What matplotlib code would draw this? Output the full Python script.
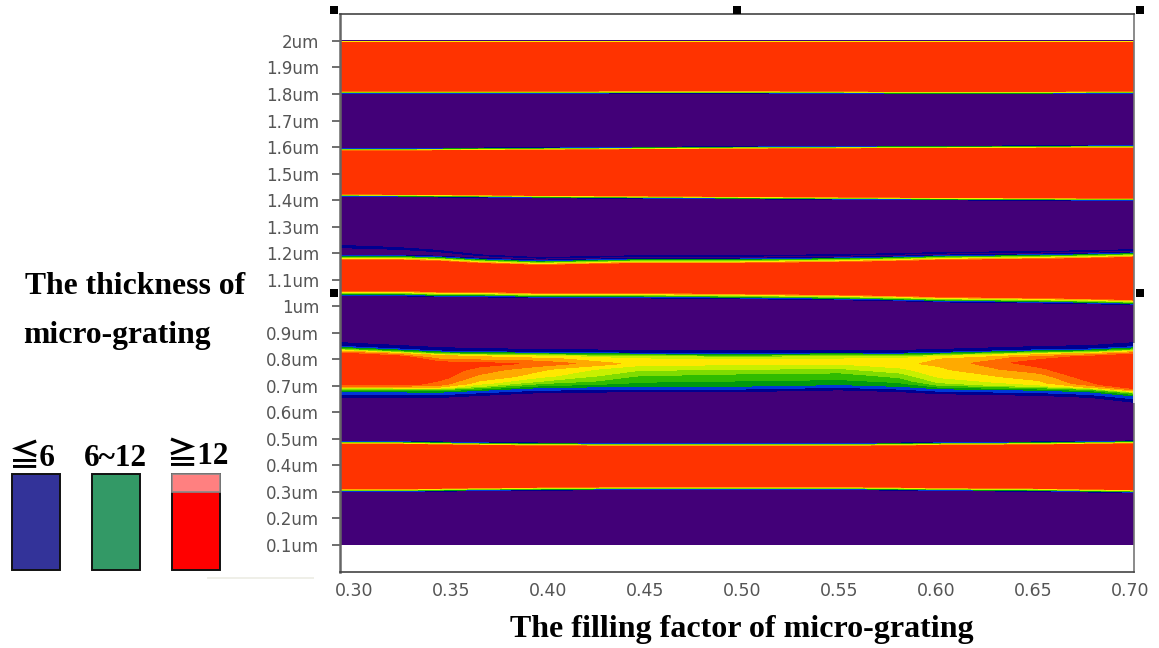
import numpy as np
import matplotlib
matplotlib.use("Agg")
import matplotlib.pyplot as plt
from matplotlib.patches import Rectangle

W, H = 1159, 648

# ---------- data ----------
filling = [0.2928, 0.3232, 0.3439, 0.3645, 0.3955, 0.4471, 0.4987,
           0.5503, 0.5813, 0.6019, 0.6535, 0.6794, 0.7021]
x_ticks = [0.30, 0.35, 0.40, 0.45, 0.50, 0.55, 0.60, 0.65, 0.70]
x_labels = ["0.30", "0.35", "0.40", "0.45", "0.50", "0.55", "0.60", "0.65", "0.70"]
y_ticks = [0.1, 0.2, 0.3, 0.4, 0.5, 0.6, 0.7, 0.8, 0.9, 1.0,
           1.1, 1.2, 1.3, 1.4, 1.5, 1.6, 1.7, 1.8, 1.9, 2.0]
y_labels = ["0.1um", "0.2um", "0.3um", "0.4um", "0.5um", "0.6um", "0.7um", "0.8um", "0.9um", "1um",
            "1.1um", "1.2um", "1.3um", "1.4um", "1.5um", "1.6um", "1.7um", "1.8um", "1.9um", "2um"]

# band edges (thickness, um) along the filling factor
edge_a = [0.307, 0.307, 0.309, 0.311, 0.313, 0.315, 0.315, 0.315, 0.313, 0.311, 0.309, 0.306, 0.304]
edge_b = [0.484, 0.484, 0.482, 0.480, 0.478, 0.477, 0.477, 0.477, 0.478, 0.480, 0.482, 0.484, 0.486]
mid_bottom = [.650, .650, .650, .658, .669, .673, .673, .680, .673, .665, .658, .650, .631]
mid_top = [.865, .854, .846, .842, .839, .835, .835, .835, .835, .839, .850, .854, .865]
edge_c = [1.050, 1.050, 1.046, 1.046, 1.042, 1.042, 1.039, 1.035, 1.031, 1.027, 1.023, 1.020, 1.016]
edge_d = [1.182, 1.182, 1.178, 1.170, 1.163, 1.170, 1.170, 1.174, 1.178, 1.182, 1.186, 1.189, 1.193]
edge_d_smear = [.040, .030, .022, .012, .008, .008, .008, .008, .008, .008, .008, .008, .008]
edge_e = [1.419, 1.418, 1.417, 1.416, 1.414, 1.412, 1.410, 1.408, 1.407, 1.406, 1.405, 1.404, 1.404]
edge_f = [1.589, 1.589, 1.590, 1.591, 1.592, 1.594, 1.596, 1.597, 1.598, 1.598, 1.599, 1.600, 1.600]
edge_g = [1.807, 1.807, 1.807, 1.807, 1.807, 1.808, 1.808, 1.807, 1.806, 1.806, 1.806, 1.807, 1.807]
edge_h = [1.998] * 13

# middle band: position of rows from top (0) to bottom (1) and strength in each column
mid_rows = [0, .02, .07, .09, .12, .16, .22, .32, .45, .60, .72, .78, .83, .88, .94, 1]
mid_vals = [
    [0, .08, .10, .2, .35, .72, 1.0, 1.0, 1.0, 1.0, 1.0, .75, .35, .18, .08, 0],
    [0, .08, .10, .2, .35, .72, .95, 1.0, 1.0, 1.0, .95, .72, .35, .18, .08, 0],
    [0, .08, .10, .2, .35, .68, .76, .95, .95, .92, .82, .66, .35, .18, .08, 0],
    [0, .08, .10, .2, .35, .66, .74, .92, .84, .74, .64, .52, .33, .18, .08, 0],
    [0, .08, .10, .2, .35, .62, .70, .86, .70, .64, .50, .38, .28, .18, .08, 0],
    [0, .08, .10, .2, .32, .52, .62, .64, .52, .40, .32, .28, .24, .16, .08, 0],
    [0, .08, .10, .2, .30, .48, .60, .62, .50, .36, .30, .27, .24, .16, .08, 0],
    [0, .08, .10, .2, .30, .50, .60, .62, .50, .36, .30, .27, .24, .16, .08, 0],
    [0, .08, .10, .2, .32, .54, .64, .66, .58, .44, .34, .28, .25, .16, .08, 0],
    [0, .08, .10, .2, .35, .60, .68, .70, .66, .62, .52, .42, .30, .18, .08, 0],
    [0, .08, .10, .2, .35, .66, .82, .95, .86, .72, .66, .58, .35, .18, .08, 0],
    [0, .08, .10, .2, .35, .70, .92, 1.0, 1.0, .95, .85, .70, .35, .18, .08, 0],
    [0, .08, .10, .2, .35, .72, 1.0, 1.0, 1.0, 1.0, 1.0, .75, .35, .18, .08, 0],
]

levels = [-.01, .04, .12, .22, .30, .40, .50, .60, .68, .78, .88, 1.01]
colors = ["#420078", "#000090", "#0038d8", "#009a10", "#30bc00", "#80dc00",
          "#c8f000", "#ffe800", "#ffaa00", "#ff6a00", "#ff3300"]

legend_labels = ["≦6", "6~12", "≧12"]
legend_colors = ["#333399", "#339966", "#ff0000"]
xlabel = "The filling factor of micro-grating"
ylabel_lines = ["The thickness of", "micro-grating"]

# ---------- grid ----------
x = np.array(filling)
rows_y, rows_z = [], []


def add(y, z):
    rows_y.append(np.asarray(y, dtype=float))
    rows_z.append(np.full(len(x), float(z)) if np.isscalar(z) else np.asarray(z, dtype=float))


def thin(edge, up, wide=0.0):
    """a sharp edge: up=True goes purple->red with rising thickness"""
    e = np.asarray(edge)
    offs = np.array([-.006, -.003, 0.0, .003, .006]) * (1 + wide)
    vals = [0, .18, .45, .72, 1] if up else [1, .72, .45, .18, 0]
    for o, v in zip(offs, vals):
        add(e + o, v)


add(np.full(len(x), 0.1), 0)
thin(edge_a, True, wide=.2)
thin(edge_b, False, wide=.2)
top, bot = np.array(mid_top), np.array(mid_bottom)
mv = np.array(mid_vals).T  # rows x columns
for f, vals in sorted(zip(mid_rows, mv), key=lambda t: -t[0]):
    add(top + (bot - top) * f, vals)
thin(edge_c, True, wide=1.0)
thin(edge_d, False, wide=1.0)
add(np.array(edge_d) + .0135 + np.array(edge_d_smear) * .8, .05)
add(np.array(edge_d) + .0145 + np.array(edge_d_smear), 0)
thin(edge_e, True)
thin(edge_f, False)
thin(edge_g, True)
add(np.array(edge_h) - .004, 1)
add(np.array(edge_h) - .001, .5)
add(np.array(edge_h) + .001, .1)
add(np.array(edge_h) + .002, 0)

Y = np.vstack(rows_y)
Z = np.vstack(rows_z)
X = np.tile(x, (Y.shape[0], 1))

# ---------- figure ----------
fig = plt.figure(figsize=(W / 100, H / 100), dpi=100, facecolor="white")
L, R, T, B = 340, 1134, 14, 572
ax = fig.add_axes([L / W, 1 - B / H, (R - L) / W, (B - T) / H])
ax.contourf(X, Y, Z, levels=levels, colors=colors, antialiased=False)
ax.set_xlim(0.2928, 0.7021)
ax.set_ylim(-0.0018, 2.1015)
ax.set_xticks(x_ticks, x_labels, family="DejaVu Sans")
ax.set_yticks(y_ticks, y_labels, family="DejaVu Sans")
ax.tick_params(axis="x", length=0, pad=7, labelsize=12.5, labelcolor="#555555")
ax.tick_params(axis="y", length=6, width=1.2, color="#555555", pad=9, labelsize=12, labelcolor="#555555")
for s in ax.spines.values():
    s.set_color("#444444")
    s.set_linewidth(1.2)
ax.spines["left"].set_linewidth(1.8)
ax.spines["left"].set_color("#666666")
ax.spines["right"].set_color("#777777")


def px_text(px, py, s, size=16.5, ha="left"):
    fig.text(px / W, 1 - py / H, s, fontsize=size, fontweight="bold", ha=ha, va="baseline",
             color="black", family=["Liberation Serif", "Noto Sans CJK SC", "DejaVu Sans"])


def px_rect(x0, y0, x1, y1, **kw):
    fig.add_artist(Rectangle((x0 / W, 1 - y1 / H), (x1 - x0) / W, (y1 - y0) / H,
                             transform=fig.transFigure, **kw))


px_text(25, 294, ylabel_lines[0], 22.8)
px_text(23, 343, ylabel_lines[1], 22.8)
px_text(510, 637, xlabel, 23)

px_text(9, 466, legend_labels[0], 22.5)
px_text(84, 466, legend_labels[1], 22.5)
px_text(167, 464, legend_labels[2], 22.5)

px_rect(12, 474, 60, 570, facecolor=legend_colors[0], edgecolor="#111111", linewidth=1.4)
px_rect(92, 474, 140, 570, facecolor=legend_colors[1], edgecolor="#111111", linewidth=1.4)
px_rect(172, 474, 220, 570, facecolor=legend_colors[2], edgecolor="#111111", linewidth=1.4)
px_rect(172, 474, 220, 492, facecolor="#ff8080", edgecolor="#888888", linewidth=1.2)

px_rect(207, 577, 314, 579, facecolor="#efefe8", edgecolor="none")
px_rect(1132.5, 343, 1134.5, 403, facecolor="#d8d8d8", edgecolor="none")

for hx, hy in [(334, 10), (737, 10), (1140, 10), (334, 293), (1140, 293)]:
    px_rect(hx - 4, hy - 3.5, hx + 4, hy + 3.5, facecolor="black", edgecolor="none")

fig.savefig("out.png", dpi=100)
